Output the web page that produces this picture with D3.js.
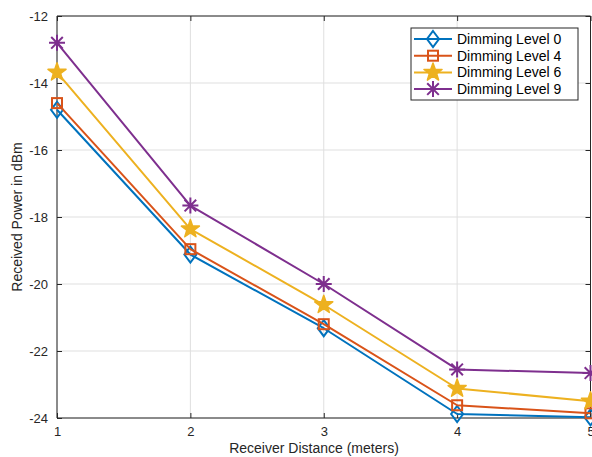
<!DOCTYPE html>
<html><head><meta charset="utf-8">
<script src="https://cdn.jsdelivr.net/npm/d3@7/dist/d3.min.js"></script>
<style>body{margin:0;background:#fff}svg{display:block;font-family:"Liberation Sans",Arial,sans-serif}</style>
</head><body><svg id="c" width="592" height="457"></svg>
<script>
const distances = [1, 2, 3, 4, 5];
const level0 = [-14.80, -19.12, -21.32, -23.88, -23.98];
const level4 = [-14.60, -18.96, -21.20, -23.62, -23.86];
const level6 = [-13.68, -18.36, -20.62, -23.12, -23.50];
const level9 = [-12.80, -17.66, -20.00, -22.55, -22.66];
const seriesNames = ["Dimming Level 0", "Dimming Level 4", "Dimming Level 6", "Dimming Level 9"];
const xTicks = [1, 2, 3, 4, 5];
const yTicks = [-12, -14, -16, -18, -20, -22, -24];

const colors = ["#0072BD", "#D95319", "#EDB120", "#7E2F8E"];
const markers = ["diamond", "square", "star", "asterisk"];
const series = [level0, level4, level6, level9];

const svg = d3.select("#c");
const L = 57, R = 590.5, T = 16, B = 418;
const x = d3.scaleLinear().domain([1, 5]).range([L, R]);
const y = d3.scaleLinear().domain([-24, -12]).range([B, T]);

// grid
const g = svg.append("g");
g.selectAll(".gx").data(xTicks).join("line")
  .attr("x1", d => x(d)).attr("x2", d => x(d)).attr("y1", T).attr("y2", B)
  .attr("stroke", "#dfdfdf").attr("stroke-width", 1);
g.selectAll(".gy").data(yTicks).join("line")
  .attr("y1", d => y(d)).attr("y2", d => y(d)).attr("x1", L).attr("x2", R)
  .attr("stroke", "#dfdfdf").attr("stroke-width", 1);

// axes
const axisColor = "#262626";
const xa = svg.append("g").attr("transform", `translate(0,${B})`)
  .call(d3.axisBottom(x).tickValues(xTicks).tickSize(-5).tickPadding(9).tickFormat(d3.format("d")));
const ya = svg.append("g").attr("transform", `translate(${L},0)`)
  .call(d3.axisLeft(y).tickValues(yTicks).tickSize(-5).tickPadding(9).tickFormat(d => String(d)));
const xt = svg.append("g").attr("transform", `translate(0,${T})`)
  .call(d3.axisTop(x).tickValues(xTicks).tickSize(-5).tickFormat(""));
const yr = svg.append("g").attr("transform", `translate(${R},0)`)
  .call(d3.axisRight(y).tickValues(yTicks).tickSize(-5).tickFormat(""));
[xa, ya, xt, yr].forEach(a => {
  a.selectAll("path").attr("stroke", axisColor).attr("stroke-width", 1);
  a.selectAll("line").attr("stroke", axisColor);
  a.selectAll("text").attr("fill", axisColor).style("font-size", "13px").style("font-family", '"Liberation Sans",Arial,sans-serif');
});
xa.select("path").attr("d", `M${L},0H${R}`);
ya.select("path").attr("d", `M0,${B}V${T}`);
xt.select("path").attr("d", `M${L},0H${R}`);
yr.select("path").attr("d", `M0,${B}V${T}`);

// labels
svg.append("text").attr("x", 314).attr("y", 453).attr("text-anchor", "middle")
  .attr("fill", axisColor).style("font-size", "14px").text("Receiver Distance (meters)");
svg.append("text").attr("transform", `translate(22,${(T + B) / 2}) rotate(-90)`).attr("text-anchor", "middle")
  .attr("fill", axisColor).style("font-size", "14px").text("Received Power in dBm");

function drawMarker(sel, type, color, cx, cy) {
  if (type === "diamond") {
    sel.append("path").attr("d", `M${cx},${cy-8}L${cx+6},${cy}L${cx},${cy+8}L${cx-6},${cy}Z`)
      .attr("fill", "none").attr("stroke", color).attr("stroke-width", 2);
  } else if (type === "square") {
    sel.append("rect").attr("x", cx - 5).attr("y", cy - 5).attr("width", 10).attr("height", 10)
      .attr("fill", "none").attr("stroke", color).attr("stroke-width", 2);
  } else if (type === "star") {
    const pts = [];
    for (let i = 0; i < 10; i++) {
      const r = i % 2 === 0 ? 9.5 : 3.8;
      const a = -Math.PI / 2 + i * Math.PI / 5;
      pts.push([cx + r * Math.cos(a), cy + r * Math.sin(a)]);
    }
    sel.append("path").attr("d", "M" + pts.map(p => p.join(",")).join("L") + "Z")
      .attr("fill", color).attr("stroke", color).attr("stroke-width", 1.5).attr("stroke-linejoin", "round");
  } else {
    const r = 8, d = 5.8;
    sel.append("path").attr("d",
      `M${cx-r},${cy}H${cx+r}M${cx},${cy-r}V${cy+r}M${cx-d},${cy-d}L${cx+d},${cy+d}M${cx-d},${cy+d}L${cx+d},${cy-d}`)
      .attr("stroke", color).attr("stroke-width", 2).attr("fill", "none");
  }
}

const line = d3.line().x((d, i) => x(distances[i])).y(d => y(d));
const plot = svg.append("g");
series.forEach((s, k) => {
  plot.append("path").attr("d", line(s)).attr("fill", "none")
    .attr("stroke", colors[k]).attr("stroke-width", 2).attr("stroke-linejoin", "round");
  s.forEach((v, i) => drawMarker(plot, markers[k], colors[k], x(distances[i]), y(v)));
});

// legend
const lg = svg.append("g");
lg.append("rect").attr("x", 411).attr("y", 28).attr("width", 167).attr("height", 72)
  .attr("fill", "#fff").attr("stroke", "#262626").attr("stroke-width", 1);
seriesNames.forEach((n, k) => {
  const yy = 39 + k * 16.7;
  lg.append("line").attr("x1", 414).attr("x2", 452).attr("y1", yy).attr("y2", yy)
    .attr("stroke", colors[k]).attr("stroke-width", 2);
  drawMarker(lg, markers[k], colors[k], 433, yy);
  lg.append("text").attr("x", 457).attr("y", yy + 5).attr("fill", "#000")
    .style("font-size", "14px").text(n);
});
</script></body></html>
